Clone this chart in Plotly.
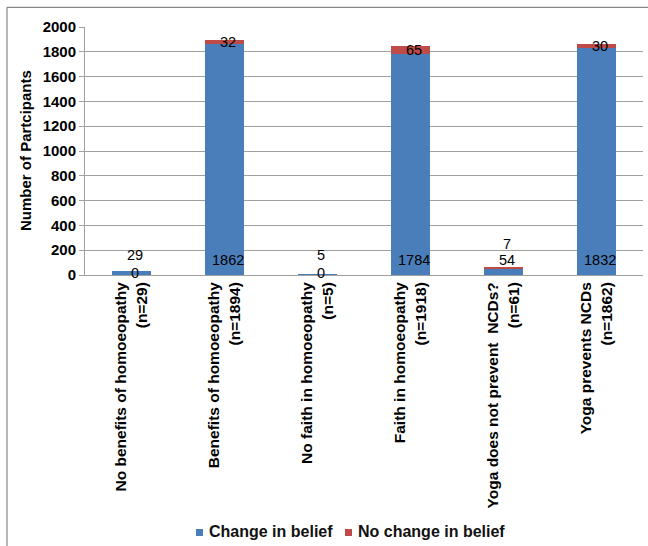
import plotly.graph_objects as go

# Survey responses per statement
categories = [
    "No benefits of homoeopathy<br>(n=29)",
    "Benefits of homoeopathy<br>(n=1894)",
    "No faith in homoeopathy<br>(n=5)",
    "Faith in homoeopathy<br>(n=1918)",
    "Yoga does not prevent  NCDs?<br>(n=61)",
    "Yoga prevents NCDs<br>(n=1862)",
]
series_names = ["Change in belief", "No change in belief"]
change_in_belief = [29, 1862, 5, 1784, 54, 1832]
no_change_in_belief = [0, 32, 0, 65, 7, 30]

BLUE = "#4A7EBB"
RED = "#BE4B48"
FONT = "Liberation Sans, Arial, sans-serif"

fig = go.Figure()
fig.add_trace(go.Bar(x=categories, y=change_in_belief, name=series_names[0],
                     marker=dict(color=BLUE, line=dict(width=0)), width=0.41,
                     showlegend=False))
fig.add_trace(go.Bar(x=categories, y=no_change_in_belief, name=series_names[1],
                     marker=dict(color=RED, line=dict(width=0)), width=0.41,
                     showlegend=False))

# value labels: tall stacks put the blue label near the base and the red one
# in the middle of its segment; short stacks get their labels lifted above
annotations = []
for i, cat in enumerate(categories):
    b, r = change_in_belief[i], no_change_in_belief[i]
    if b + r > 200:
        yb, yr = 121, b + r / 2
    elif r == 0:
        yb, yr = 161, 18
    else:
        yb, yr = 121, 250
    annotations.append(dict(x=cat, y=yb, text=str(b), showarrow=False, xshift=3,
                            font=dict(family=FONT, size=14.5, color="black")))
    annotations.append(dict(x=cat, y=yr, text=str(r), showarrow=False, xshift=3,
                            font=dict(family=FONT, size=14.5, color="black")))

annotations.append(dict(xref="paper", yref="paper", x=-0.1075, y=0.5,
                        text="<b>Number of Partcipants</b>", textangle=-90,
                        showarrow=False, xanchor="center", yanchor="middle",
                        font=dict(family=FONT, size=15, color="black")))

# compact legend below the category labels: small swatch + bold text
shapes = [dict(type="rect", xref="paper", yref="paper",
               x0=-0.1398, x1=1.02, y0=-1.2, y1=1.0793,
               line=dict(color="#6e6e6e", width=1), layer="below")]
legend_x = [0.1989, 0.4659]
for lx, name, col in zip(legend_x, series_names, [BLUE, RED]):
    shapes.append(dict(type="rect", xref="paper", yref="paper",
                       x0=lx, x1=lx + 0.0126, y0=-1.0524, y1=-1.0242,
                       fillcolor=col, line=dict(width=0)))
    annotations.append(dict(xref="paper", yref="paper", x=lx + 0.0198, y=-1.033,
                            text="<b>" + name + "</b>", showarrow=False,
                            xanchor="left", yanchor="middle",
                            font=dict(family=FONT, size=16, color="#111")))

fig.update_layout(
    width=648, height=546,
    margin=dict(l=85, r=5, t=27, b=271),
    barmode="stack",
    plot_bgcolor="white", paper_bgcolor="white",
    font=dict(family=FONT, color="black"),
    annotations=annotations,
    shapes=shapes,
    showlegend=False,
)
fig.update_xaxes(
    tickangle=-90, showgrid=False, showline=True, linecolor="#a0a0a0", linewidth=1,
    ticks="", tickfont=dict(family=FONT, size=15.5, color="black"),
    range=[-0.5, 5.5],
    tickvals=categories,
    ticktext=["<b>" + c.replace("<br>", "</b><br><b>") + "</b>" for c in categories],
)
fig.update_yaxes(
    range=[0, 2000], dtick=200, showgrid=True, gridcolor="#a0a0a0", gridwidth=1,
    showline=True, linecolor="#a0a0a0", linewidth=1, ticks="outside", ticklen=5,
    tickcolor="#a0a0a0", tickfont=dict(family=FONT, size=15, color="black"),
    tickprefix="<b>", ticksuffix="</b>", zeroline=False,
)

fig.write_html("out.html")
